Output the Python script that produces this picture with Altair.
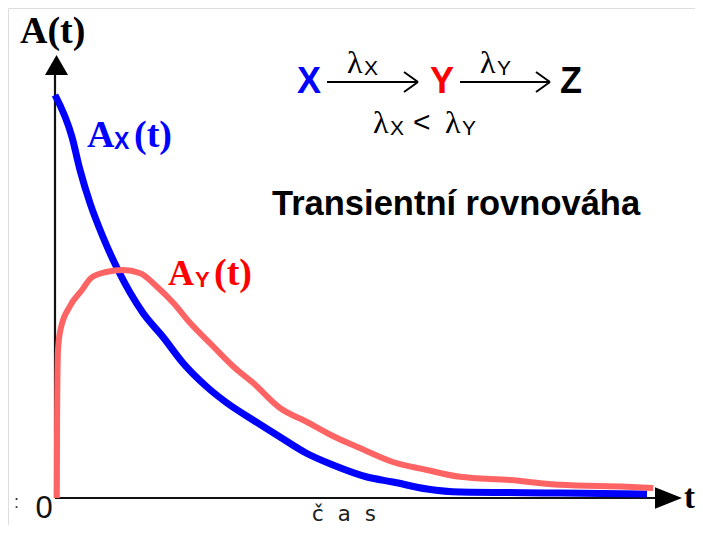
import altair as alt
import pandas as pd

# Blue curve A_X(t)
t_x = [0.0, 0.283, 0.417, 0.583, 0.8, 1.05, 1.467, 1.8, 2.133, 2.533, 2.867, 3.3, 3.75,
       4.183, 4.633, 5.2, 5.633, 6.2, 6.75, 8.417, 9.867]
a_x = [1.0075, 0.9025, 0.82, 0.7375, 0.6525, 0.57, 0.4625, 0.4025, 0.3375, 0.2775, 0.2375,
       0.195, 0.1525, 0.1125, 0.0825, 0.0525, 0.04, 0.0225, 0.015, 0.0125, 0.01]

# Red curve A_Y(t)
t_y = [0.03, 0.035, 0.05, 0.09, 0.25, 0.45, 0.6, 0.85, 1.13, 1.42, 1.7, 1.97, 2.25, 2.63,
       3.0, 3.3, 3.75, 4.2, 4.63, 5.08, 5.63, 6.2, 6.75, 7.58, 8.42, 9.53, 9.97]
a_y = [0.0, 0.2, 0.37, 0.42, 0.48, 0.52, 0.55, 0.565, 0.57, 0.562, 0.528, 0.488, 0.438, 0.38,
       0.325, 0.288, 0.225, 0.19, 0.155, 0.125, 0.09, 0.07, 0.053, 0.045, 0.033, 0.028, 0.025]

W, H = 687, 517
X_DOM = [(8 - 55) / 60, (8 + W - 55) / 60]
Y_DOM = [(498 - (8 + H)) / 400, (498 - 8) / 400]
xs = alt.Scale(domain=X_DOM, nice=False, zero=False)
ys = alt.Scale(domain=Y_DOM, nice=False, zero=False)

dx = pd.DataFrame({"t": t_x, "A": a_x})
dy = pd.DataFrame({"t": t_y, "A": a_y})
one = pd.DataFrame({"k": [0]})

X = lambda f: alt.X(f, type="quantitative", scale=xs, axis=None)
Y = lambda f: alt.Y(f, type="quantitative", scale=ys, axis=None)

# axes
axes_df = pd.DataFrame({"t": [0.0, 0.0], "t2": [10.1, 0.0], "A": [0.0, 0.0], "A2": [0.0, 1.07]})
axes = alt.Chart(axes_df).mark_rule(color="#111111", strokeWidth=2.2).encode(
    x=X("t"), x2="t2", y=Y("A"), y2="A2")

up_df = pd.DataFrame({"t": [0.025], "A": [(498 - 65) / 400]})
up = alt.Chart(up_df).mark_point(shape="M0,-0.87L1,0.87L-1,0.87Z", filled=True, size=529,
                                 color="black", opacity=1, strokeWidth=0).encode(x=X("t"), y=Y("A"))
rt_df = pd.DataFrame({"t": [(668.5 - 55) / 60], "A": [0.0]})
rt = alt.Chart(rt_df).mark_point(shape="M-1,-0.8L1,0L-1,0.8Z", filled=True, size=729,
                                 color="black", opacity=1, strokeWidth=0).encode(x=X("t"), y=Y("A"))

blue = alt.Chart(dx).mark_line(color="#0000ff", strokeWidth=7, interpolate="monotone",
                               strokeCap="butt").encode(x=X("t"), y=Y("A"))
red = alt.Chart(dy).mark_line(color="#ff6464", strokeWidth=6, interpolate="monotone",
                              strokeCap="butt").encode(x=X("t"), y=Y("A"))


def txt(s, x, y, size, color="black", font="Liberation Sans", weight="normal", align="left"):
    return alt.Chart(one).mark_text(text=s, fontSize=size, font=font, fontWeight=weight,
                                    color=color, align=align, baseline="alphabetic").encode(
        x=alt.value(x - 8), y=alt.value(y - 8))


def seg(x1, y1, x2, y2, w=2):
    return alt.Chart(one).mark_rule(color="black", strokeWidth=w).encode(
        x=alt.value(x1 - 8), y=alt.value(y1 - 8), x2=alt.value(x2 - 8), y2=alt.value(y2 - 8))


SERIF = "Liberation Serif"
SANS = "Liberation Sans"
BLUE = "#0000ff"
RED = "#ff0000"

labels = [
    txt("A(t)", 20, 43, 38, font=SERIF, weight="bold"),
    txt("A", 87, 147, 38, BLUE, SERIF, "bold"),
    txt("X", 114, 149, 23, BLUE, SANS, "bold"),
    txt("(t)", 134, 147, 38, BLUE, SERIF, "bold"),
    txt("A", 168, 285, 36, RED, SERIF, "bold"),
    txt("Y", 195, 287, 22, RED, SANS, "bold"),
    txt("(t)", 214, 285, 38, RED, SERIF, "bold"),
    txt("X", 297, 93, 36, BLUE, SANS, "bold"),
    txt("Y", 430, 93, 36, RED, SANS, "bold"),
    txt("Z", 560, 93, 36, "black", SANS, "bold"),
    txt("λ", 347, 73, 32, font=SERIF),
    txt("X", 364, 75, 21, font=SANS),
    txt("λ", 480, 73, 32, font=SERIF),
    txt("Y", 497, 75, 21, font=SANS),
    txt("λ", 373, 133, 32, font=SERIF),
    txt("X", 390, 135, 21, font=SANS),
    txt("<", 413, 132, 30, font=SANS),
    txt("λ", 445, 133, 32, font=SERIF),
    txt("Y", 462, 135, 21, font=SANS),
    txt("Transientní rovnováha", 272, 215, 34.5, font=SANS, weight="bold"),
    txt("0", 44, 518, 31, "#111111", SANS, align="center"),
    txt("č a s", 344, 521, 22, "#222222", "DejaVu Sans Mono", align="center"),
    txt("t", 684, 508, 33, font=SERIF, weight="bold"),
    txt(":", 14, 508, 18, "#333333", SANS),
]

arrows = [
    seg(327, 82, 418, 82), seg(404, 72, 418, 82), seg(404, 92, 418, 82),
    seg(460, 82, 550, 82), seg(536, 72, 550, 82), seg(536, 92, 550, 82),
]

chart = alt.layer(axes, blue, red, up, rt, *arrows, *labels).properties(
    width=W, height=H, padding=0, autosize="none"
).configure_view(strokeWidth=0, stroke="transparent").configure(background="white")

chart.save("out.html", embed_options={"renderer": "svg", "actions": False})
